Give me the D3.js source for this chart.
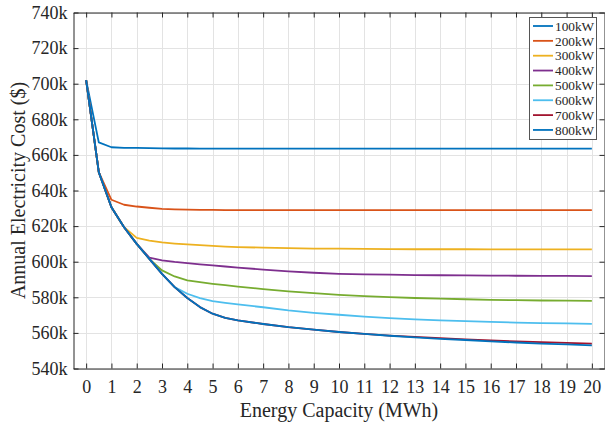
<!DOCTYPE html>
<html>
<head>
<meta charset="utf-8">
<script src="https://cdn.jsdelivr.net/npm/d3@7"></script>
<style>
  body { margin: 0; background: #fff; }
  svg text { font-family: "Liberation Serif", "Times New Roman", serif; fill: #262626; }
</style>
</head>
<body>
<div id="chart"></div>
<script>
// Energy capacity (MWh) sample points
const capacity = [0, 0.5, 1, 1.5, 2, 2.5, 3, 3.5, 4, 4.5, 5, 5.5, 6,
  7, 8, 9, 10, 11, 12, 13, 14, 15, 16, 17, 18, 19, 20];

// Annual electricity cost (k$) for each power rating
const cost100 = [702, 667.0, 664.3, 664.0, 663.9, 663.8, 663.7, 663.6, 663.6, 663.5, 663.5, 663.5, 663.5,
  663.5, 663.5, 663.5, 663.5, 663.5, 663.5, 663.5, 663.5, 663.5, 663.5, 663.5, 663.5, 663.5, 663.5];
const cost200 = [702, 650.3, 634.8, 632.0, 631.0, 630.3, 629.7, 629.4, 629.2, 629.1, 629.1, 629.0, 629.0,
  629.0, 629.0, 629.0, 629.0, 629.0, 629.0, 629.0, 629.0, 629.0, 629.0, 629.0, 629.0, 629.0, 629.0];
const cost300 = [702, 650.3, 630.6, 619.4, 613.4, 611.9, 610.8, 610.2, 609.7, 609.3, 608.9, 608.5, 608.2,
  607.9, 607.6, 607.4, 607.3, 607.2, 607.1, 607.0, 607.0, 607.0, 606.9, 606.9, 606.9, 606.9, 606.9];
const cost400 = [702, 650.3, 630.6, 619.4, 610.0, 602.3, 600.8, 599.9, 599.2, 598.5, 597.9, 597.3, 596.7,
  595.6, 594.6, 593.8, 593.2, 592.9, 592.7, 592.5, 592.4, 592.3, 592.2, 592.1, 592.0, 592.0, 591.9];
const cost500 = [702, 650.3, 630.6, 619.4, 610.0, 601.6, 595.1, 591.7, 589.5, 588.5, 587.6, 586.8, 586.0,
  584.6, 583.3, 582.3, 581.4, 580.7, 580.1, 579.6, 579.2, 578.9, 578.6, 578.4, 578.2, 578.1, 578.0];
const cost600 = [702, 650.3, 630.6, 619.4, 610.0, 601.6, 593.2, 585.7, 582.0, 579.5, 577.8, 576.9, 576.0,
  574.4, 572.6, 571.3, 570.2, 569.2, 568.3, 567.6, 567.0, 566.6, 566.2, 565.8, 565.5, 565.3, 565.1];
const cost700 = [702, 650.3, 630.6, 619.4, 610.0, 601.6, 593.2, 585.7, 579.6, 574.5, 570.8, 568.5, 567.0,
  565.0, 563.2, 561.8, 560.5, 559.4, 558.5, 557.8, 557.1, 556.4, 555.8, 555.2, 554.8, 554.4, 554.0];
const cost800 = [702, 650.3, 630.6, 619.4, 610.0, 601.6, 593.2, 585.7, 579.6, 574.5, 570.8, 568.5, 567.0,
  565.0, 563.2, 561.8, 560.5, 559.4, 558.4, 557.5, 556.7, 556.0, 555.2, 554.6, 554.0, 553.5, 553.0];

const seriesNames = ["100kW", "200kW", "300kW", "400kW", "500kW", "600kW", "700kW", "800kW"];
const seriesValues = [cost100, cost200, cost300, cost400, cost500, cost600, cost700, cost800];
const seriesColors = ["#0072BD", "#D95319", "#EDB120", "#7E2F8E", "#77AC30", "#4DBEEE", "#A2142F", "#0072BD"];

const xTicks = d3.range(0, 21, 1);
const yTicks = d3.range(540, 741, 20);

const width = 605, height = 426;
const plotLeft = 73.5, plotRight = 604.5, plotTop = 12.5, plotBottom = 368.5;
const tickLen = 5;
const axisColor = "#262626";

const svg = d3.select("#chart").append("svg")
  .attr("width", width)
  .attr("height", height);

const x = d3.scaleLinear().domain([-0.5, 20.5]).range([plotLeft, plotRight]);
const y = d3.scaleLinear().domain([540, 740]).range([plotBottom, plotTop]);

// grid
const grid = svg.append("g").attr("stroke", "#e3e3e3").attr("stroke-width", 1);
grid.selectAll(".gx").data(xTicks).join("line")
  .attr("x1", d => Math.round(x(d)) + 0.5).attr("x2", d => Math.round(x(d)) + 0.5)
  .attr("y1", plotTop).attr("y2", plotBottom);
grid.selectAll(".gy").data(yTicks).join("line")
  .attr("y1", d => Math.round(y(d)) + 0.5).attr("y2", d => Math.round(y(d)) + 0.5)
  .attr("x1", plotLeft).attr("x2", plotRight);

// axes (ticks inside, MATLAB style)
const xAxisBottom = svg.append("g")
  .attr("transform", `translate(0,${plotBottom})`)
  .call(d3.axisBottom(x).tickValues(xTicks).tickSizeInner(-tickLen).tickSizeOuter(0));
const xAxisTop = svg.append("g")
  .attr("transform", `translate(0,${plotTop})`)
  .call(d3.axisTop(x).tickValues(xTicks).tickSizeInner(-tickLen).tickSizeOuter(0).tickFormat(""));
const yAxisLeft = svg.append("g")
  .attr("transform", `translate(${plotLeft},0)`)
  .call(d3.axisLeft(y).tickValues(yTicks).tickSizeInner(-tickLen).tickSizeOuter(0).tickPadding(6)
    .tickFormat(d => d + "k"));
const yAxisRight = svg.append("g")
  .attr("transform", `translate(${plotRight},0)`)
  .call(d3.axisRight(y).tickValues(yTicks).tickSizeInner(-tickLen).tickSizeOuter(0).tickFormat(""));

[xAxisBottom, xAxisTop, yAxisLeft, yAxisRight].forEach(g => {
  g.select(".domain").attr("stroke", axisColor);
  g.selectAll(".tick line").attr("stroke", axisColor);
  g.selectAll(".tick text").attr("fill", axisColor)
    .style("font-family", "'Liberation Serif', serif").style("font-size", "18px");
});
xAxisBottom.selectAll(".tick text").attr("y", 24.5).attr("dy", 0);

// lines
const line = d3.line()
  .x((d, i) => x(capacity[i]))
  .y(d => y(d));

svg.append("g").selectAll("path")
  .data(seriesValues)
  .join("path")
  .attr("fill", "none")
  .attr("stroke", (d, i) => seriesColors[i])
  .attr("stroke-width", 1.8)
  .attr("stroke-linejoin", "round")
  .attr("d", line);

// axis titles
svg.append("text")
  .attr("x", (plotLeft + plotRight) / 2)
  .attr("y", 417)
  .attr("text-anchor", "middle")
  .style("font-size", "20px")
  .text("Energy Capacity (MWh)");

svg.append("text")
  .attr("transform", `translate(25,${(plotTop + plotBottom) / 2}) rotate(-90)`)
  .attr("text-anchor", "middle")
  .style("font-size", "20px")
  .text("Annual Electricity Cost ($)");

// legend
const legend = svg.append("g");
legend.append("rect")
  .attr("x", 529.5).attr("y", 17.5)
  .attr("width", 67).attr("height", 122)
  .attr("fill", "#fff")
  .attr("stroke", "#555")
  .attr("stroke-width", 1);

const rowH = 14.85;
const items = legend.selectAll(".item")
  .data(seriesNames)
  .join("g")
  .attr("transform", (d, i) => `translate(533,${26 + i * rowH})`);
items.append("line")
  .attr("x1", 0).attr("x2", 20)
  .attr("stroke", (d, i) => seriesColors[i])
  .attr("stroke-width", 1.8);
items.append("text")
  .attr("x", 22)
  .attr("dy", "0.35em")
  .style("font-size", "13.3px")
  .text(d => d);
</script>
</body>
</html>
